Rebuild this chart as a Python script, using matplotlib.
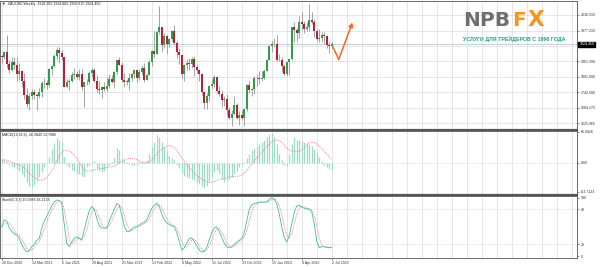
import numpy as np
import matplotlib
matplotlib.use("Agg")
import matplotlib.pyplot as plt
from matplotlib.lines import Line2D

# ---------------- data (XAUUSD weekly) ----------------
first_open = 1881.0
closes = [1877, 1895, 1849, 1828, 1856, 1848, 1813, 1824, 1784, 1734,
          1700, 1727, 1745, 1733, 1728, 1744, 1777, 1777, 1769, 1831,
          1843, 1881, 1903, 1891, 1877, 1764, 1781, 1784, 1808, 1812,
          1801, 1814, 1763, 1780, 1781, 1817, 1827, 1787, 1754, 1750,
          1761, 1757, 1768, 1793, 1783, 1818, 1864, 1846, 1788, 1783,
          1783, 1798, 1811, 1829, 1797, 1818, 1835, 1791, 1808, 1859,
          1898, 1889, 1970, 1989, 1921, 1958, 1925, 1946, 1974, 1931,
          1897, 1883, 1811, 1846, 1853, 1851, 1871, 1840, 1827, 1811,
          1742, 1703, 1727, 1766, 1775, 1802, 1747, 1737, 1712, 1716,
          1675, 1644, 1660, 1695, 1644, 1656, 1645, 1681, 1771, 1751,
          1754, 1797, 1797, 1793, 1798, 1824, 1865, 1920, 1926, 1928,
          1865, 1865, 1842, 1811, 1856, 1868, 1989, 1978, 1969, 2008,
          2004, 1982, 1990, 2016, 2011, 1977, 1946, 1948, 1961, 1958,
          1921, 1918.26, 1924.45]
highs = [1884, 1900, 1959, 1864, 1876, 1875, 1875, 1855, 1826, 1815,
         1760, 1740, 1755, 1755, 1740, 1758, 1785, 1798, 1790, 1834,
         1846, 1890, 1913, 1916, 1903, 1878, 1795, 1795, 1818, 1834,
         1825, 1832, 1832, 1783, 1795, 1823, 1834, 1834, 1809, 1787,
         1765, 1781, 1800, 1814, 1810, 1823, 1868, 1877, 1858, 1816,
         1793, 1815, 1815, 1831, 1831, 1831, 1848, 1854, 1813, 1865,
         1902, 1974, 1975, 2070, 1989, 1967, 1961, 1948, 1980, 1998,
         1936, 1910, 1884, 1849, 1869, 1874, 1876, 1879, 1847, 1830,
         1814, 1746, 1739, 1768, 1795, 1807, 1802, 1765, 1749, 1730,
         1735, 1688, 1675, 1729, 1703, 1670, 1675, 1681, 1774, 1786,
         1760, 1805, 1810, 1824, 1823, 1833, 1869, 1922, 1938, 1949,
         1960, 1890, 1877, 1846, 1858, 1870, 1990, 2009, 1988, 2032,
         2048, 2015, 2009, 2079, 2048, 2022, 1985, 1983, 1970, 1971,
         1959, 1934, 1934.86]
lows = [1855, 1870, 1836, 1817, 1823, 1830, 1785, 1790, 1761, 1717,
        1687, 1676, 1718, 1718, 1677, 1721, 1724, 1760, 1756, 1763,
        1808, 1837, 1868, 1855, 1866, 1761, 1761, 1750, 1782, 1792,
        1794, 1791, 1753, 1687, 1772, 1776, 1802, 1781, 1745, 1737,
        1721, 1746, 1746, 1760, 1778, 1759, 1812, 1846, 1782, 1762,
        1770, 1753, 1785, 1797, 1782, 1791, 1809, 1780, 1788, 1807,
        1842, 1878, 1887, 1965, 1895, 1910, 1889, 1915, 1938, 1927,
        1872, 1851, 1798, 1787, 1829, 1829, 1836, 1805, 1816, 1784,
        1732, 1681, 1680, 1711, 1754, 1764, 1744, 1728, 1688, 1691,
        1654, 1640, 1615, 1659, 1640, 1617, 1638, 1616, 1673, 1740,
        1728, 1738, 1766, 1774, 1785, 1795, 1823, 1867, 1896, 1917,
        1861, 1860, 1819, 1808, 1804, 1809, 1867, 1935, 1934, 1950,
        1981, 1969, 1974, 1976, 2002, 1951, 1938, 1932, 1934, 1925,
        1910, 1893, 1909.87]
# MACD(12,26,9) main line (histogram)
macd_hist = [5, 8, 3, -5, -8, -10, -14, -18, -25, -32,
             -42, -50, -52, -48, -40, -30, -20, -10, 0, 12,
             30, 42, 54, 50, 45, 12, -6, -10, -15, -18,
             -22, -25, -28, -30, -10, -5, 2, 3, -12, -18,
             -20, -18, -12, -5, 2, 10, 33, 28, 10, 5,
             2, -3, -5, -5, -3, 2, 3, 2, 5, 20,
             35, 45, 60, 55, 45, 35, 25, 15, 10, 5,
             -5, -12, -20, -28, -30, -33, -35, -38, -42, -46,
             -50, -54, -50, -40, -30, -20, -15, -25, -35, -43,
             -40, -35, -30, -25, -18, -10, -5, 2, 10, 20,
             28, 32, 35, 40, 45, 50, 55, 62, 65, 55,
             40, 20, 5, -5, -8, 20, 40, 55, 50, 50,
             48, 45, 42, 40, 36, 30, 22, 12, 4, -4,
             -9, -13, -16.38]
# Stochastic(5,3,3) main line
stoch_main = [50, 62, 60, 48, 42, 38, 36, 30, 20, 12,
              7, 9, 16, 20, 27, 30, 48, 60, 68, 77,
              86, 93, 96, 95, 90, 55, 22, 16, 24, 30,
              33, 30, 27, 45, 62, 78, 85, 80, 65, 52,
              48, 48, 48, 60, 70, 80, 90, 88, 70, 52,
              42, 42, 46, 50, 50, 53, 56, 58, 62, 72,
              82, 87, 91, 85, 72, 62, 57, 54, 52, 50,
              40, 25, 10, 14, 22, 30, 31, 25, 18, 10,
              7, 8, 15, 28, 40, 48, 50, 42, 32, 22,
              16, 14, 16, 20, 24, 27, 30, 40, 60, 80,
              88, 90, 91, 92, 93, 92, 93, 97, 100, 97,
              90, 72, 50, 32, 24, 35, 55, 75, 86, 87,
              84, 82, 81, 80, 76, 55, 25, 14, 16, 16,
              15, 14, 15.10]
date_labels = ["20 Dec 2020", "14 Mar 2021", "6 Jun 2021", "29 Aug 2021",
               "21 Nov 2021", "13 Feb 2022", "8 May 2022", "31 Jul 2022",
               "23 Oct 2022", "15 Jan 2023", "9 Apr 2023", "2 Jul 2023"]
price_ticks = [2036.510, 1977.210, 1861.390, 1801.080, 1742.580, 1684.275, 1625.965]
last_price = 1924.450
macd_ticks = [66.9426, 0.00, -63.7123]
macd_tick_labels = ["66.9426", "0.00", "-63.7123"]
stoch_ticks = [100, 80, 20, 0]
forecast_x = [132.4, 134.8, 140.3]
forecast_y = [1916, 1868, 2008]

closes = np.array(closes, float)
highs = np.array(highs, float)
lows = np.array(lows, float)
opens = np.concatenate([[first_open], closes[:-1]])
macd_hist = np.array(macd_hist, float)
stoch_main = np.array(stoch_main, float)
n = len(closes)
x = np.arange(n)

def sma(v, p):
    return np.array([v[max(0, i - p + 1):i + 1].mean() for i in range(len(v))])

macd_sig = sma(macd_hist, 9)      # MACD signal line = SMA(9) of main
stoch_sig = sma(stoch_main, 3)    # Stochastic signal = SMA(3) of main

# ---------------- layout ----------------
W, H = 600, 267
fig = plt.figure(figsize=(W / 100, H / 100), dpi=100)
fig.patch.set_facecolor("white")

def rect(top, bottom, left=0, right=577):
    return [left / W, 1 - bottom / H, (right - left) / W, (bottom - top) / H]

FONT = "Liberation Sans"
FS = 2.6
grid_c = "#dcdcdc"
xlim = (-0.7, 230.1)

ax = fig.add_axes(rect(0.5, 128.5))
axm = fig.add_axes(rect(130.5, 193.5))
axs = fig.add_axes(rect(195.5, 258))

for a in (ax, axm, axs):
    a.set_xlim(*xlim)
    a.set_facecolor("white")
    for s in a.spines.values():
        s.set_color("#6a6a6a")
        s.set_linewidth(0.7)
    a.yaxis.tick_right()
    a.tick_params(axis="y", length=1.5, width=0.4, pad=1.2, labelsize=FS,
                  colors="#333333")
    for xv in np.arange(0, 231, 6):
        a.axvline(xv, color=grid_c, lw=0.5, zorder=0)

# ---- main pane ----
ax.set_ylim(1605.06, 2091.6)
ax.set_yticks(price_ticks)
ax.set_yticklabels([f"{v:.3f}" for v in price_ticks], family=FONT)
for yv in price_ticks + [1919.5]:
    ax.axhline(yv, color=grid_c, lw=0.5, zorder=0)
ax.axhline(last_price, color="#b9c6d6", lw=0.6, zorder=1)

up = closes >= opens
body_b = np.minimum(opens, closes)
body_h = np.maximum(np.abs(closes - opens), 1.5)
ax.vlines(x, lows, highs, color="#8c8c8c", lw=0.55, zorder=2)
ax.bar(x, body_h, bottom=body_b, width=0.66,
       color=np.where(up, "#2f9e48", "#b52238"), linewidth=0, zorder=3)

ax.plot(forecast_x[:2], forecast_y[:2], color="#f26a21", lw=1.1, zorder=5,
        solid_capstyle="round")
ax.annotate("", xy=(forecast_x[2], forecast_y[2]), xytext=(forecast_x[1], forecast_y[1]),
            arrowprops=dict(arrowstyle="-|>", color="#f26a21", lw=1.1,
                            mutation_scale=6, shrinkA=0, shrinkB=0), zorder=5)

ax.text(1.004, last_price, f"{last_price:.3f}", transform=ax.get_yaxis_transform(),
        fontsize=FS, family=FONT, color="white", va="center", ha="left",
        bbox=dict(boxstyle="square,pad=0.25", fc="black", ec="black"), zorder=10,
        clip_on=False)
ax.tick_params(axis="x", bottom=False, labelbottom=False)
ax.text(2 / 577, 1 - 4 / 128, "\u25bc  XAUUSD,Weekly  1918.260 1934.860 1909.870 1924.450",
        transform=ax.transAxes, fontsize=FS, family=FONT, color="#222222",
        va="center", ha="left")

# logo
logo_y = 1 - 20 / 128
ax.text(463 / 577, logo_y, "NPB", transform=ax.transAxes, fontsize=14.5,
        fontweight="bold", family="DejaVu Sans", color="#6e6f71", va="center", ha="left")
ax.text(512 / 577, logo_y, "F", transform=ax.transAxes, fontsize=14.5,
        fontweight="bold", family="DejaVu Sans", color="#f7941d", va="center", ha="left")
ax.text(528 / 577, logo_y, "X", transform=ax.transAxes, fontsize=15.5,
        fontweight="bold", family="DejaVu Sans", color="#f7941d", va="center", ha="left")
ax.text(514 / 577, 1 - 38.5 / 128, "УСЛУГИ ДЛЯ ТРЕЙДЕРОВ С 1996 ГОДА",
        transform=ax.transAxes, fontsize=3.8, fontweight="bold",
        family=["Liberation Sans Narrow", "Liberation Sans"], color="#17a589",
        va="center", ha="center")

# ---- MACD pane ----
axm.set_ylim(-66.98, 70.2)
axm.set_yticks(macd_ticks)
axm.set_yticklabels(macd_tick_labels, family=FONT)
axm.axhline(0, color="#c8c8c8", lw=0.5, ls=(0, (1, 1.5)), zorder=1)
axm.vlines(x, 0, macd_hist, color="#9edcc8", lw=0.9, zorder=2)
axm.plot(x, macd_sig, color="#f08a8a", lw=0.6, ls=(0, (1.5, 1)), zorder=3)
axm.tick_params(axis="x", bottom=False, labelbottom=False)
axm.text(2 / 577, 1 - 4.5 / 63, "MACD(12,26,9) -16.3849 13.7886", transform=axm.transAxes,
         fontsize=FS, family=FONT, color="#222222", va="center", ha="left")

# ---- Stochastic pane ----
axs.set_ylim(-3.4, 103.8)
axs.set_yticks(stoch_ticks)
axs.set_yticklabels([str(v) for v in stoch_ticks], family=FONT)
for yv in (80, 20):
    axs.axhline(yv, color="#c8c8c8", lw=0.5, ls=(0, (1, 1.5)), zorder=1)
axs.plot(x, stoch_sig, color="#f29a9a", lw=0.6, ls=(0, (2, 1)), zorder=2)
axs.plot(x, stoch_main, color="#3fbfa0", lw=0.6, zorder=3)
axs.text(2 / 577, 1 - 4.5 / 62.5, "Stoch(5,3,3) 15.0988 16.2138", transform=axs.transAxes,
         fontsize=FS, family=FONT, color="#222222", va="center", ha="left")
axs.set_xticks(np.arange(0, n, 12))
axs.set_xticklabels(date_labels, family=FONT, ha="left")
axs.tick_params(axis="x", length=1.5, width=0.4, pad=1.0, labelsize=FS, colors="#333333")

# pane separators
for yy in (129.5, 194.5):
    fig.add_artist(Line2D([0, 577 / W], [1 - yy / H, 1 - yy / H], color="#555555",
                          lw=1.6, transform=fig.transFigure))

fig.savefig("out.png", dpi=100, facecolor="white")
